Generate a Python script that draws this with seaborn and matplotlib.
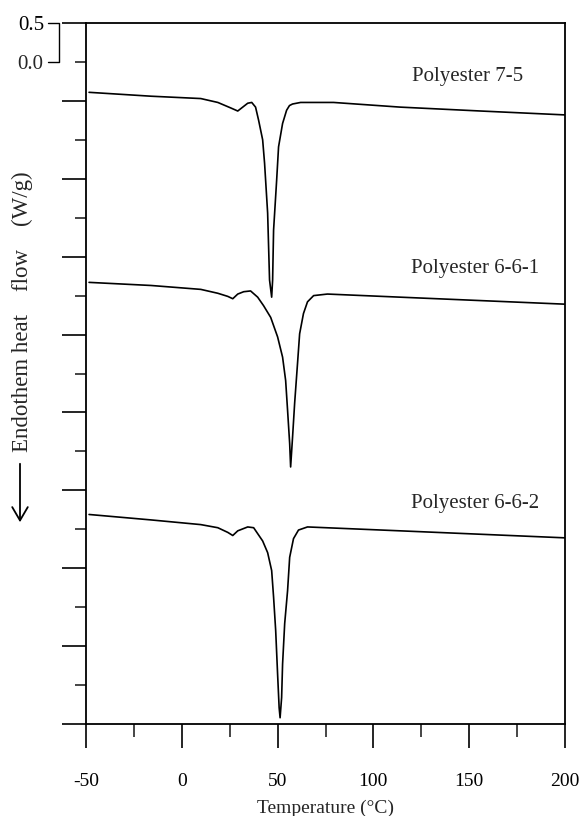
import numpy as np
import pandas as pd
import matplotlib
matplotlib.use("Agg")
import matplotlib.pyplot as plt
from matplotlib.ticker import FixedLocator, FixedFormatter
import seaborn as sns

# DSC traces (temperature in deg C, heat flow in W/g, curves offset vertically)
temp_75 = [-48.4, -16.0, 9.9, 18.8, 25.5, 29.2, 31.8, 34.4, 36.5, 38.5, 40.1, 42.2,
           43.2, 44.8, 45.8, 46.9, 47.4, 47.9, 49.5, 50.5, 52.6, 54.7, 56.2, 57.8, 62.0,
           79.2, 114.0, 156.0, 200.0]
flow_75 = [-0.39, -0.44, -0.47, -0.52, -0.59, -0.63, -0.58, -0.53, -0.52, -0.58, -0.75, -1.00,
           -1.30, -1.94, -2.80, -3.02, -2.80, -2.16, -1.52, -1.09, -0.79, -0.62, -0.56, -0.54,
           -0.52, -0.52, -0.58, -0.63, -0.68]

temp_661 = [-48.4, -16.0, 9.9, 18.8, 24.0, 26.6, 29.2, 32.3, 35.9, 39.6, 42.7, 46.4,
            50.0, 52.6, 54.2, 55.2, 56.3, 56.8, 57.8, 58.9, 60.4, 61.5, 63.5, 65.6,
            68.8, 76.0, 114.0, 200.0]
flow_661 = [-2.83, -2.87, -2.92, -2.97, -3.01, -3.04, -2.98, -2.95, -2.94, -3.02, -3.13, -3.28,
            -3.53, -3.79, -4.09, -4.47, -4.90, -5.20, -4.82, -4.38, -3.87, -3.49, -3.23, -3.08,
            -3.00, -2.98, -3.02, -3.11]

temp_662 = [-48.4, -16.0, 9.9, 18.8, 24.0, 26.6, 29.2, 34.4, 37.5, 42.2, 44.8, 46.9,
            47.9, 49.0, 50.0, 50.8, 51.3, 52.1, 52.6, 53.7, 55.2, 56.3, 58.3, 60.9,
            65.6, 114.0, 200.0]
flow_662 = [-5.81, -5.88, -5.94, -5.98, -6.04, -6.08, -6.02, -5.97, -5.98, -6.15, -6.30, -6.53,
            -6.87, -7.30, -7.86, -8.29, -8.42, -8.16, -7.73, -7.21, -6.79, -6.36, -6.12, -6.01,
            -5.97, -6.02, -6.11]

sample_names = ["Polyester 7-5", "Polyester 6-6-1", "Polyester 6-6-2"]
label_pos = [(149.0, -0.19), (153.0, -2.65), (153.0, -5.67)]

x_major = [-50, 0, 50, 100, 150, 200]
x_minor = [-25, 25, 75, 125, 175]
y_major = [0.5, -0.5, -1.5, -2.5, -3.5, -4.5, -5.5, -6.5, -7.5, -8.5]
y_minor = [0.0, -1.0, -2.0, -3.0, -4.0, -5.0, -6.0, -7.0, -8.0]

sns.set_style("ticks")
plt.rcParams["font.family"] = ["Liberation Serif", "DejaVu Serif"]

fig = plt.figure(figsize=(5.82, 8.16), dpi=100)
W, H = 582, 816
ax = fig.add_axes([86 / W, 1 - 724 / H, (565 - 86) / W, (724 - 23) / H])

frames = []
for name, t, f in zip(sample_names, [temp_75, temp_661, temp_662],
                      [flow_75, flow_661, flow_662]):
    frames.append(pd.DataFrame({"T": t, "q": f, "sample": name}))
data = pd.concat(frames, ignore_index=True)

for name in sample_names:
    sub = data[data["sample"] == name]
    sns.lineplot(data=sub, x="T", y="q", ax=ax, color="black", lw=1.2,
                 sort=False, estimator=None)

for name, (tx, ty) in zip(sample_names, label_pos):
    ax.text(tx, ty, name, ha="center", va="center", fontsize=15)

ax.set_xlim(-50, 200)
ax.set_ylim(-8.5, 0.5)

for s in ax.spines.values():
    s.set_visible(True)
    s.set_linewidth(1.3)
    s.set_color("black")

ax.xaxis.set_major_locator(FixedLocator(x_major))
ax.xaxis.set_minor_locator(FixedLocator(x_minor))
ax.xaxis.set_major_formatter(FixedFormatter([str(v) for v in x_major]))
ax.yaxis.set_major_locator(FixedLocator(y_major))
ax.yaxis.set_minor_locator(FixedLocator(y_minor))
ax.yaxis.set_major_formatter(FixedFormatter(["0.5"] + [""] * (len(y_major) - 1)))
ax.yaxis.set_minor_formatter(FixedFormatter(["0.0"] + [""] * (len(y_minor) - 1)))

ax.tick_params(axis="x", which="major", direction="out", length=17, width=1.2,
               pad=18, labelsize=14, colors="black")
ax.tick_params(axis="x", which="minor", direction="out", length=9, width=1.2)
ax.tick_params(axis="y", which="major", direction="out", length=17, width=1.2,
               pad=13, labelsize=15, colors="black")
ax.tick_params(axis="y", which="minor", direction="out", length=8, width=1.2,
               pad=23, labelsize=15)

ax.set_xlabel("Temperature (°C)", fontsize=14, labelpad=7)
ax.set_ylabel("")

# scale bracket joining the 0.5 and 0.0 labels
ytr = ax.get_yaxis_transform()
bx0 = (48 - 86) / (565 - 86)
bx1 = (59 - 86) / (565 - 86)
ax.plot([bx0, bx1, bx1, bx0], [0.5, 0.5, 0.0, 0.0], color="black", lw=1.0,
        transform=ytr, clip_on=False)

# y-axis caption with downward arrow
fig.text(22 / W, 1 - 452 / H, "Endothem heat    flow    (W/g)", rotation=90,
         ha="center", va="bottom", fontsize=16.5)
fig.add_artist(matplotlib.patches.FancyArrowPatch(
    (20 / W, 1 - 461 / H), (20 / W, 1 - 525 / H), transform=fig.transFigure,
    arrowstyle="->,head_length=6,head_width=3.5", color="black", lw=1.3,
    mutation_scale=1.6))

fig.savefig("out.png", dpi=100)
